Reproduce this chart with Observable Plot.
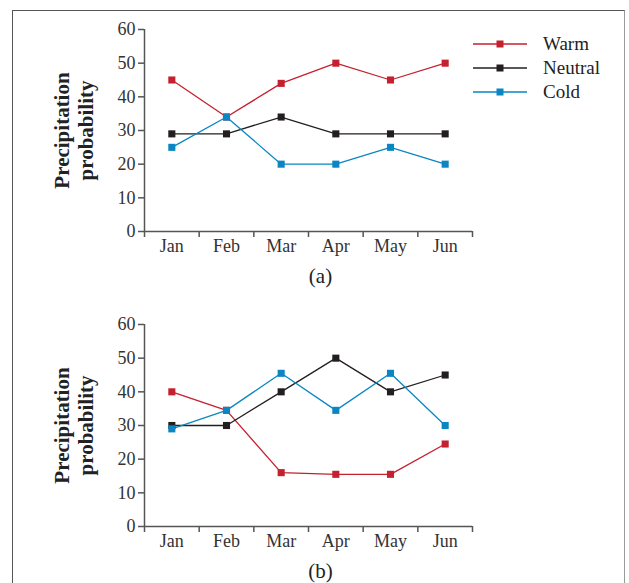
<!DOCTYPE html>
<html><head><meta charset="utf-8">
<script src="https://cdn.jsdelivr.net/npm/d3@7"></script>
<script src="https://cdn.jsdelivr.net/npm/@observablehq/plot@0.6"></script>
<style>
body{margin:0;background:#fff;}
#wrap{position:relative;width:629px;height:583px;overflow:hidden;font-family:"Liberation Serif",serif;background:#fff;}
#frame{position:absolute;left:12px;top:10px;width:611px;height:640px;border:1.5px solid #555;border-right-color:#999;}
.panel{position:absolute;left:0;}
#legend{position:absolute;left:473px;top:32px;}
.row{display:flex;align-items:center;height:24px;}
.row span{margin-left:16px;font-size:19px;color:#222;}
</style></head><body><div id="wrap"><div id="frame"></div><div id="legend"></div></div>
<script>
const months = ["Jan","Feb","Mar","Apr","May","Jun"];
const series = ["Warm","Neutral","Cold"];
const colors = ["#c4202f","#231f20","#0a86c2"];
const panelLabels = ["(a)","(b)"];
const yTitle = "Precipitation\nprobability";
const yTicks = [0,10,20,30,40,50,60];
const warmA = [45,34,44,50,45,50];
const neutralA = [29,29,34,29,29,29];
const coldA = [25,34,20,20,25,20];
const warmB = [40,34.5,16,15.5,15.5,24.5];
const neutralB = [30,30,40,50,40,45];
const coldB = [29,34.5,45.5,34.5,45.5,30];

function rowsOf(lists) {
  const out = [];
  series.forEach((s, k) => lists[k].forEach((v, i) => out.push({series: s, month: months[i], xi: i + 0.5, value: v})));
  return out;
}

function panel(rows, label, top) {
  const svg = Plot.plot({
    width: 629, height: 300,
    marginLeft: 144, marginRight: 157, marginTop: 29, marginBottom: 69,
    style: {fontFamily: "'Liberation Serif', serif", fontSize: "18px", color: "#333", background: "transparent", overflow: "visible"},
    x: {type: "linear", domain: [0, months.length]},
    y: {domain: [0, 60]},
    color: {domain: series, range: colors},
    marks: [
      Plot.ruleY([0], {stroke: "#555", strokeWidth: 1.5}),
      Plot.ruleX([0], {stroke: "#555", strokeWidth: 1.5, y1: 0, y2: 60}),
      Plot.axisY({ticks: yTicks, tickSize: 6, tickPadding: 3, stroke: "#555", strokeWidth: 1.5, label: null, fontSize: 18, fill: "#333"}),
      Plot.axisX({ticks: d3.range(months.length + 1), tickSize: 6, tickFormat: () => "", label: null, stroke: "#555", strokeWidth: 1.5}),
      Plot.axisX({ticks: months.map((m, i) => i + 0.5), tickSize: 0, tickPadding: 8, tickFormat: v => months[Math.floor(v)], label: null, fontSize: 18, fill: "#333"}),
      Plot.line(rows, {x: "xi", y: "value", z: "series", stroke: "series", strokeWidth: 1.3}),
      Plot.dot(rows, {x: "xi", y: "value", fill: "series", symbol: "square", r: 4}),
      Plot.text([label], {frameAnchor: "bottom", dy: 51, dx: 12, fontSize: 21, fill: "#222"}),
      Plot.text([yTitle], {frameAnchor: "left", textAnchor: "middle", lineAnchor: "middle", rotate: -90, dx: -71, fontSize: 21, fontWeight: "bold", lineHeight: 1.14, fill: "#222"})
    ]
  });
  svg.classList.add("panel");
  svg.style.top = top + "px";
  document.getElementById("wrap").appendChild(svg);
}

panel(rowsOf([warmA, neutralA, coldA]), panelLabels[0], 0);
panel(rowsOf([warmB, neutralB, coldB]), panelLabels[1], 295);

const legend = d3.select("#legend");
series.forEach((s, k) => {
  const row = legend.append("div").attr("class", "row");
  const sw = row.append("svg").attr("width", 54).attr("height", 10);
  sw.append("line").attr("x1", 0).attr("x2", 54).attr("y1", 5).attr("y2", 5).attr("stroke", colors[k]).attr("stroke-width", 1.5);
  sw.append("rect").attr("x", 23.5).attr("y", 1.5).attr("width", 7).attr("height", 7).attr("fill", colors[k]);
  row.append("span").text(s);
});
</script></body></html>
